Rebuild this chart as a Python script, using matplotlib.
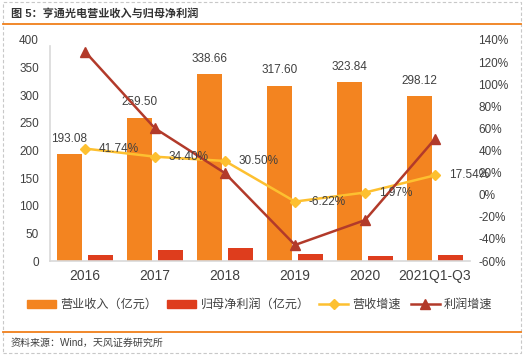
import matplotlib
matplotlib.use("Agg")
import matplotlib.pyplot as plt
from matplotlib.lines import Line2D
from matplotlib.patches import Rectangle
import numpy as np

plt.rcParams['font.family'] = ['Liberation Sans', 'Noto Sans CJK SC', 'DejaVu Sans']

# data
years = ["2016", "2017", "2018", "2019", "2020", "2021Q1-Q3"]
revenue = [193.08, 259.50, 338.66, 317.60, 323.84, 298.12]
net_profit = [11.0, 20.0, 24.0, 12.5, 9.0, 11.5]
rev_growth = [41.74, 34.40, 30.50, -6.22, 1.97, 17.54]
profit_growth = [129.5, 60.0, 19.5, -45.5, -23.0, 50.5]

c_rev = "#F38420"
c_np = "#DE3D1D"
c_rg = "#FDC030"
c_pg = "#B23A2A"
c_txt = "#404040"

W, H = 527, 357
fig = plt.figure(figsize=(W / 100, H / 100), dpi=100)

# frame, title and rules
fig.patches.append(Rectangle((3 / W, 1 - 353 / H), 518 / W, 351 / H, transform=fig.transFigure,
                             fill=False, edgecolor="#c8c8c8", linestyle=(0, (3, 2)), linewidth=0.8))
fig.lines.append(Line2D([3 / W, 521 / W], [1 - 24 / H] * 2, transform=fig.transFigure,
                        color="#F07F1A", linewidth=1.3))
fig.lines.append(Line2D([3 / W, 521 / W], [1 - 332 / H] * 2, transform=fig.transFigure,
                        color="#F07F1A", linewidth=1.3))
fig.text(11 / W, 1 - 13 / H, "图 5：亨通光电营业收入与归母净利润", fontsize=8, fontweight="bold",
         color="#333333", va="center", ha="left")
fig.text(11 / W, 1 - 343 / H, "资料来源：Wind，天风证券研究所", fontsize=7.2,
         color="#404040", va="center", ha="left")

ax = fig.add_axes([50 / W, 1 - 261 / H, 420 / W, 221 / H])
x = np.arange(len(years))
bw = 0.355
off = 0.225
ax.bar(x - off, revenue, bw, color=c_rev, zorder=2)
ax.bar(x + off, net_profit, bw, color=c_np, zorder=2)
ax.set_xlim(-0.5, 5.5)
ax.set_ylim(0, 400)
ax.set_yticks(np.arange(0, 401, 50))
ax.set_xticks(x)
ax.set_xticklabels(years, fontsize=10, color=c_txt)
ax.tick_params(axis="y", labelsize=8.5, colors=c_txt, length=0, pad=8)
ax.tick_params(axis="x", length=0, pad=6)
for s in ["top", "right"]:
    ax.spines[s].set_visible(False)
ax.spines["left"].set_color("#d9d9d9")
ax.spines["bottom"].set_color("#d9d9d9")
ax.spines["left"].set_linewidth(1.2)
ax.spines["bottom"].set_linewidth(1.2)
ax.spines["left"].set_bounds(0, 390)

for xi, v in zip(x, revenue):
    ax.annotate(f"{v:.2f}", (xi - off, v), xytext=(0, 11), textcoords="offset points",
                ha="center", va="center", fontsize=8.5, color=c_txt)

ax2 = ax.twinx()
ax2.set_ylim(-60, 140)
ax2.set_yticks(np.arange(-60, 141, 20))
ax2.set_yticklabels([f"{v}%" for v in range(-60, 141, 20)])
ax2.tick_params(axis="y", labelsize=8.5, colors=c_txt, length=0, pad=6)
for s in ax2.spines.values():
    s.set_visible(False)
ax2.plot(x, rev_growth, color=c_rg, linewidth=1.8, marker="D", markersize=5.5, zorder=3)
ax2.plot(x, profit_growth, color=c_pg, linewidth=1.8, marker="^", markersize=7, zorder=4)
for xi, v in zip(x, rev_growth):
    ax2.annotate(f"{v:.2f}%", (xi, v), xytext=(10, 0), textcoords="offset points",
                 ha="left", va="center", fontsize=8.5, color=c_txt, zorder=5)

handles = [
    Rectangle((0, 0), 1, 1, color=c_rev),
    Rectangle((0, 0), 1, 1, color=c_np),
    Line2D([], [], color=c_rg, linewidth=1.8, marker="D", markersize=5.5),
    Line2D([], [], color=c_pg, linewidth=1.8, marker="^", markersize=7),
]
labels = ["营业收入（亿元）", "归母净利润（亿元）", "营收增速", "利润增速"]
fig.legend(handles, labels, loc="center", bbox_to_anchor=(260 / W, 1 - 305 / H), ncol=4,
           frameon=False, fontsize=8.7, handlelength=2.4, handleheight=0.6, columnspacing=0.8,
           handletextpad=0.35, labelcolor=c_txt)

fig.savefig("out.png", dpi=100)
